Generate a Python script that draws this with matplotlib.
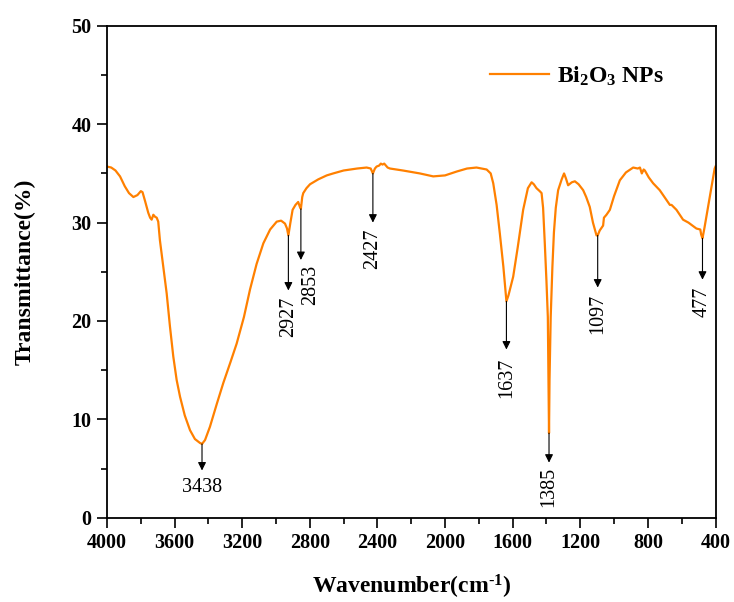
import matplotlib
matplotlib.use("Agg")
import matplotlib.pyplot as plt
from matplotlib.ticker import MultipleLocator

plt.rcParams['font.family'] = ['Liberation Serif', 'DejaVu Serif']
plt.rcParams['mathtext.fontset'] = 'custom'
plt.rcParams['mathtext.rm'] = 'Liberation Serif:bold'
plt.rcParams['mathtext.bf'] = 'Liberation Serif:bold'
plt.rcParams['mathtext.default'] = 'bf'

wavenumber = [4000, 3975, 3950, 3923, 3895, 3870, 3844, 3820, 3800, 3790, 3775, 3756, 3745, 3736,
              3726, 3716, 3706, 3697, 3687, 3667, 3647, 3628, 3608, 3588, 3568, 3540, 3509, 3480,
              3450, 3438, 3420, 3391, 3350, 3312, 3270, 3233, 3190, 3154, 3115, 3075, 3035, 2996,
              2970, 2947, 2935, 2927, 2915, 2902, 2885, 2869, 2859, 2853, 2845, 2839, 2820, 2799,
              2750, 2700, 2662, 2600, 2520, 2464, 2440, 2427, 2415, 2405, 2390, 2380, 2370, 2360,
              2340, 2326, 2250, 2149, 2070, 2000, 1930, 1870, 1814, 1754, 1730, 1715, 1695, 1676,
              1655, 1637, 1625, 1610, 1597, 1570, 1538, 1510, 1488, 1475, 1459, 1440, 1429, 1420,
              1410, 1400, 1392, 1388, 1385, 1382, 1375, 1365, 1356, 1345, 1331, 1310, 1296, 1285,
              1272, 1250, 1232, 1210, 1183, 1165, 1144, 1125, 1104, 1097, 1085, 1065, 1060, 1045,
              1025, 1000, 966, 930, 887, 860, 847, 836, 825, 818, 795, 769, 730, 710, 690, 670,
              660, 631, 592, 560, 513, 490, 485, 477, 465, 454, 430, 405, 400]
transmittance = [35.7, 35.6, 35.3, 34.7, 33.7, 33.0, 32.6, 32.8, 33.2, 33.1, 32.2, 31.0, 30.5, 30.3,
                 30.8, 30.6, 30.5, 30.1, 28.2, 25.5, 22.8, 19.5, 16.4, 14.0, 12.3, 10.4, 8.9, 8.0,
                 7.6, 7.5, 7.9, 9.25, 11.6, 13.7, 15.8, 17.7, 20.4, 23.2, 25.8, 27.9, 29.3, 30.1,
                 30.2, 29.9, 29.4, 28.7, 30.0, 31.3, 31.8, 32.1, 31.6, 31.4, 32.6, 33.0, 33.5, 33.9,
                 34.4, 34.8, 35.0, 35.3, 35.5, 35.6, 35.5, 35.0, 35.5, 35.7, 35.8, 36.0, 35.9, 36.0,
                 35.6, 35.5, 35.3, 35.0, 34.7, 34.8, 35.2, 35.5, 35.6, 35.4, 35.0, 34.0, 31.8, 28.9,
                 25.5, 22.0, 22.6, 23.6, 24.5, 27.5, 31.3, 33.5, 34.1, 33.9, 33.5, 33.2, 33.0, 31.5,
                 27.9, 24.0, 20.4, 14.0, 8.6, 14.0, 20.4, 25.5, 29.0, 31.5, 33.3, 34.4, 35.0, 34.5,
                 33.8, 34.1, 34.2, 33.9, 33.3, 32.6, 31.6, 30.0, 28.7, 28.7, 29.2, 29.7, 30.5, 30.8,
                 31.3, 32.7, 34.3, 35.1, 35.6, 35.5, 35.6, 35.0, 35.4, 35.3, 34.6, 34.0, 33.3, 32.8,
                 32.3, 31.8, 31.8, 31.3, 30.3, 30.0, 29.4, 29.3, 28.8, 28.4, 29.5, 30.6, 33.0, 35.5,
                 35.7]

peak_labels = ['3438', '2927', '2853', '2427', '1637', '1385', '1097', '477']
peak_x = [3438, 2927, 2853, 2427, 1637, 1385, 1097, 477]
peak_y = [7.5, 28.7, 31.4, 35.0, 22.0, 8.6, 28.7, 28.4]
arrow_end_y = [4.8, 23.1, 26.2, 30.0, 17.1, 5.6, 23.4, 24.2]
label_x = [3438, 2927, 2795, 2427, 1637, 1385, 1097, 477]
label_y = [3.1, 20.4, 23.7, 27.3, 14.2, 3.1, 20.7, 22.0]
label_rot = [0, 90, 90, 90, 90, 90, 90, 90]

x_ticks = [4000, 3600, 3200, 2800, 2400, 2000, 1600, 1200, 800, 400]
y_ticks = [0, 10, 20, 30, 40, 50]

fig = plt.figure(figsize=(7.34, 6.02), dpi=100)
ax = fig.add_axes([0.1458, 0.140, 0.829, 0.817])
ax.plot(wavenumber, transmittance, color='#FF8000', lw=1.6, label=r'$\mathregular{Bi_2O_3}$ NPs')

for lab, px, py, ey, lx, ly, rot in zip(peak_labels, peak_x, peak_y, arrow_end_y, label_x, label_y, label_rot):
    ax.annotate('', xy=(px, ey), xytext=(px, py),
                arrowprops=dict(arrowstyle='-|>', color='black', lw=0.8,
                                mutation_scale=12, shrinkA=0, shrinkB=0))
    ax.text(lx, ly, lab, rotation=rot, ha='center', va='center', fontsize=14.5, color='black')

ax.set_xlim(4000, 400)
ax.set_ylim(0, 50)
ax.set_xticks(x_ticks)
ax.set_yticks(y_ticks)
ax.xaxis.set_minor_locator(MultipleLocator(200))
ax.yaxis.set_minor_locator(MultipleLocator(5))
ax.tick_params(which='major', direction='out', length=7, width=1.2, labelsize=14.5, pad=4)
ax.tick_params(which='minor', direction='out', length=4, width=1.2)
for lab in ax.get_xticklabels() + ax.get_yticklabels():
    lab.set_fontweight('bold')
for s in ax.spines.values():
    s.set_linewidth(1.3)

ax.set_xlabel(r'Wavenumber(cm$^{\text{-1}}$)', fontsize=17, fontweight='bold', labelpad=14)
ax.set_ylabel('Transmittance(%)', fontsize=17, fontweight='bold', labelpad=26)

leg = ax.legend(loc='upper right', bbox_to_anchor=(0.95, 0.965), frameon=False,
                handlelength=2.5, handletextpad=0.35,
                prop={'family': 'Liberation Serif', 'weight': 'bold', 'size': 17})

fig.savefig('out.png', dpi=100, facecolor='white')
